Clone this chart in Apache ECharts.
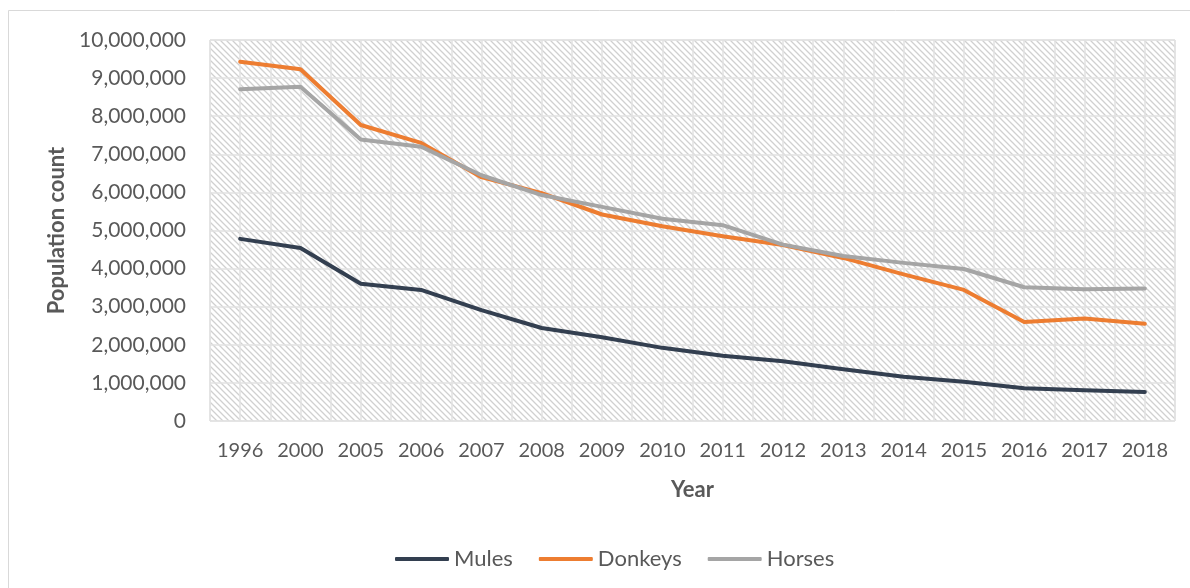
<!DOCTYPE html>
<html lang="en">
<head>
    <meta charset="UTF-8">
    <title>Population count</title>
    <script type="text/javascript" src="https://cdn.jsdelivr.net/npm/echarts@6/dist/echarts.min.js"></script>
    <style>
        html, body { margin: 0; padding: 0; background: #fff; }
        #main { width: 1190px; height: 588px; }
    </style>
</head>
<body>
    <div id="main"></div>
</body>
<script>
    var years = ['1996', '2000', '2005', '2006', '2007', '2008', '2009', '2010', '2011', '2012', '2013', '2014', '2015', '2016', '2017', '2018'];
    var mules = [4780000, 4540000, 3600000, 3440000, 2910000, 2440000, 2200000, 1920000, 1710000, 1570000, 1360000, 1160000, 1030000, 860000, 810000, 760000];
    var donkeys = [9430000, 9230000, 7770000, 7300000, 6400000, 5980000, 5420000, 5110000, 4850000, 4620000, 4280000, 3850000, 3440000, 2600000, 2690000, 2550000];
    var horses = [8710000, 8770000, 7390000, 7200000, 6450000, 5930000, 5620000, 5310000, 5140000, 4630000, 4330000, 4150000, 3990000, 3510000, 3460000, 3480000];
    var yTicks = [0, 10000000, 1000000]; // min, max, step

    var textColor = '#595959';
    var font = 'Lato, "Open Sans", sans-serif';

    // hatched plot background
    var hatch = document.createElement('canvas');
    var s = 6;
    hatch.width = s; hatch.height = s;
    var ctx = hatch.getContext('2d');
    ctx.fillStyle = '#ffffff';
    ctx.fillRect(0, 0, s, s);
    ctx.strokeStyle = '#d0d0d0';
    ctx.lineWidth = 1.3;
    ctx.beginPath();
    ctx.moveTo(0, 0); ctx.lineTo(s, s);
    ctx.moveTo(s - 1, -1); ctx.lineTo(s + 1, 1);
    ctx.moveTo(-1, s - 1); ctx.lineTo(1, s + 1);
    ctx.stroke();

    var chart = echarts.init(document.getElementById('main'), null, { renderer: 'canvas' });
    var option = {
        animation: false,
        backgroundColor: '#ffffff',
        textStyle: { fontFamily: font },
        graphic: [{
            type: 'rect',
            shape: { x: 8.5, y: 10.5, width: 1200, height: 600 },
            style: { fill: 'none', stroke: '#d9d9d9', lineWidth: 1 },
            z: -10
        }],
        grid: {
            left: 210, right: 15, top: 40, bottom: 167,
            show: true,
            backgroundColor: { image: hatch, repeat: 'repeat' },
            borderColor: '#d9d9d9',
            borderWidth: 1
        },
        legend: {
            top: 543,
            left: 390,
            itemWidth: 54,
            itemHeight: 4,
            itemGap: 26,
            icon: 'roundRect',
            textStyle: { color: textColor, fontSize: 22, fontFamily: font },
            data: ['Mules', 'Donkeys', 'Horses']
        },
        xAxis: [{
            type: 'category',
            data: years,
            name: 'Year',
            nameLocation: 'middle',
            nameGap: 58,
            nameTextStyle: { color: textColor, fontSize: 22, fontWeight: 'bold', fontFamily: font },
            axisLine: { show: false },
            axisTick: { show: false },
            axisLabel: { color: textColor, fontSize: 20, margin: 20, interval: 0, fontFamily: font },
            splitLine: { show: false }
        }, {
            type: 'value',
            min: 0, max: 32, interval: 1,
            show: true,
            axisLine: { show: false },
            axisTick: { show: false },
            axisLabel: { show: false },
            splitLine: { show: true, lineStyle: { color: '#e2e2e2', width: 1.5 } }
        }],
        yAxis: {
            type: 'value',
            min: yTicks[0], max: yTicks[1], interval: yTicks[2],
            name: 'Population count',
            nameLocation: 'middle',
            nameGap: 140,
            nameRotate: 90,
            nameTextStyle: { color: textColor, fontSize: 22, fontWeight: 'bold', fontFamily: font },
            axisLine: { show: false },
            axisTick: { show: false },
            axisLabel: {
                color: textColor, fontSize: 21, margin: 24, fontFamily: font,
                formatter: function (v) { return v.toLocaleString('en-US'); }
            },
            splitLine: { show: true, lineStyle: { color: '#e2e2e2', width: 1.5 } }
        },
        series: [{
            name: 'Mules', type: 'line', data: mules,
            symbol: 'none', color: '#333f50',
            lineStyle: { width: 4, cap: 'round', join: 'round' }
        }, {
            name: 'Donkeys', type: 'line', data: donkeys,
            symbol: 'none', color: '#ed7d31',
            lineStyle: { width: 4, cap: 'round', join: 'round' }
        }, {
            name: 'Horses', type: 'line', data: horses,
            symbol: 'none', color: '#a5a5a5',
            lineStyle: { width: 4, cap: 'round', join: 'round' }
        }]
    };
    chart.setOption(option);
    window.onresize = function () { chart.resize(); };
</script>
</html>
